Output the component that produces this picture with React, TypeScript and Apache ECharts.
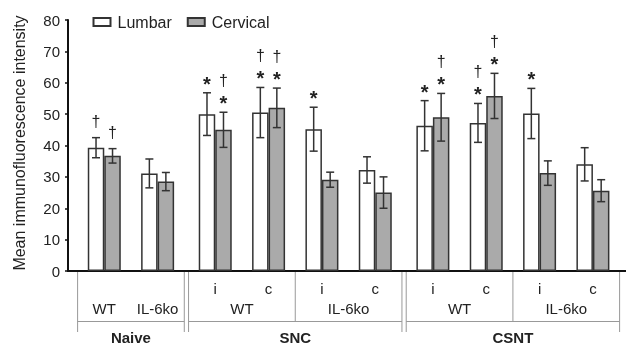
import React, { useEffect, useRef } from "react";
import * as echarts from "echarts";

// ---- data ----
const models = ["Naive", "SNC", "CSNT"];
const modelOf = [0, 0, 1, 1, 1, 1, 2, 2, 2, 2];
const genotypes = ["WT", "IL-6ko", "WT", "WT", "IL-6ko", "IL-6ko", "WT", "WT", "IL-6ko", "IL-6ko"];
const sides = ["", "", "i", "c", "i", "c", "i", "c", "i", "c"];

const lumbarMean = [39.3, 31.1, 50.0, 50.5, 45.2, 32.2, 46.3, 47.2, 50.2, 34.0];
const lumbarSD = [3.2, 4.6, 6.8, 8.0, 7.0, 4.2, 8.0, 6.2, 8.0, 5.3];
const cervicalMean = [36.7, 28.5, 45.0, 52.0, 29.1, 25.0, 49.0, 55.8, 31.2, 25.6];
const cervicalSD = [2.3, 2.9, 5.6, 6.3, 2.4, 5.0, 7.6, 7.2, 3.9, 3.5];
const lumbarMarks = ["†", "", "*", "†*", "*", "", "*", "†*", "*", ""];
const cervicalMarks = ["†", "", "†*", "†*", "", "", "†*", "†*", "", ""];

const seriesNames = ["Lumbar", "Cervical"];
const yTickValues = { min: 0, max: 80, interval: 10 };

// ---- styling ----
const FONT = '"Liberation Sans", Arial, Helvetica, sans-serif';
const TEXT = "#222";
const EDGE = "#333";
const GRAY = "#aaaaaa";
const LINE_GRAY = "#999";
const BAR_W = 16.5;
const GROUP_GAP = 0.08;
const xPos = modelOf.map((g, i) => i + GROUP_GAP * g);

function errSeries(name: string, means: number[], sds: number[], marks: string[], dir: number) {
  return {
    type: "custom",
    name: name + "-err",
    silent: true,
    clip: false,
    z: 5,
    data: means.map((m, i) => [xPos[i], m, sds[i]]),
    encode: { x: 0, y: 1 },
    renderItem: (params: any, api: any) => {
      const x = api.value(0);
      const m = api.value(1);
      const sd = api.value(2);
      const top = api.coord([x, m + sd]);
      const bot = api.coord([x, m - sd]);
      const cx = top[0] + (dir * BAR_W) / 2;
      const cap = 4;
      const ls = { stroke: EDGE, lineWidth: 1.5 };
      const children: any[] = [
        { type: "line", shape: { x1: cx, y1: top[1], x2: cx, y2: bot[1] }, style: ls },
        { type: "line", shape: { x1: cx - cap, y1: top[1], x2: cx + cap, y2: top[1] }, style: ls },
        { type: "line", shape: { x1: cx - cap, y1: bot[1], x2: cx + cap, y2: bot[1] }, style: ls },
      ];
      const mk = marks[params.dataIndex] || "";
      const hasStar = mk.indexOf("*") >= 0;
      const hasDagger = mk.indexOf("†") >= 0;
      if (hasStar) {
        children.push({
          type: "text",
          x: cx,
          y: top[1] - 9,
          style: {
            text: "*",
            fontSize: 20,
            fontWeight: "bold",
            fontFamily: FONT,
            fill: TEXT,
            align: "center",
            verticalAlign: "middle",
            textAlign: "center",
            textVerticalAlign: "middle",
          },
        });
      }
      if (hasDagger) {
        children.push({
          type: "text",
          x: cx,
          y: top[1] - (hasStar ? 31.5 : 16),
          style: {
            text: "†",
            fontSize: 16,
            fontFamily: FONT,
            fill: TEXT,
            align: "center",
            verticalAlign: "middle",
            textAlign: "center",
            textVerticalAlign: "middle",
          },
        });
      }
      return { type: "group", children };
    },
  };
}

export default function App() {
  const ref = useRef<HTMLDivElement>(null);
  useEffect(() => {
    document.body.style.margin = "0";
    const chart = echarts.init(ref.current!, null, { renderer: "svg" });
    chart.setOption({
      animation: false,
      textStyle: { fontFamily: FONT },
      grid: { left: 68, right: 0, top: 20, bottom: 75 },
      legend: {
        data: seriesNames,
        left: 92.5,
        top: 14,
        padding: 0,
        icon: "rect",
        itemWidth: 17,
        itemHeight: 8,
        itemGap: 15,
        textStyle: { fontSize: 16, color: TEXT, fontFamily: FONT, padding: [0, 0, 0, 2] },
      },
      xAxis: {
        type: "value",
        min: -0.68,
        max: 9.78,
        axisLine: { show: true, onZero: false, lineStyle: { color: "#111", width: 2 } },
        axisTick: { show: false },
        axisLabel: { show: false },
        splitLine: { show: false },
      },
      yAxis: {
        type: "value",
        min: yTickValues.min,
        max: yTickValues.max,
        interval: yTickValues.interval,
        name: "Mean immunofluorescence intensity",
        nameLocation: "middle",
        nameGap: 41,
        nameTextStyle: { fontSize: 16, color: TEXT, fontFamily: FONT, padding: [0, 0, 0, 5] },
        axisLine: { show: true, onZero: false, lineStyle: { color: "#111", width: 2 } },
        axisTick: { show: true, length: 3, lineStyle: { color: "#111", width: 1.5 } },
        axisLabel: { fontSize: 15, color: TEXT, margin: 8, fontFamily: FONT },
        splitLine: { show: false },
      },
      series: [
        {
          type: "bar",
          name: seriesNames[0],
          data: lumbarMean.map((v, i) => [xPos[i], v]),
          barWidth: BAR_W,
          barGap: "0%",
          itemStyle: { color: "#ffffff", borderColor: EDGE, borderWidth: 1.5 },
        },
        {
          type: "bar",
          name: seriesNames[1],
          data: cervicalMean.map((v, i) => [xPos[i], v]),
          barWidth: BAR_W,
          barGap: "0%",
          itemStyle: { color: GRAY, borderColor: EDGE, borderWidth: 1.5 },
        },
        errSeries(seriesNames[0], lumbarMean, lumbarSD, lumbarMarks, -1),
        errSeries(seriesNames[1], cervicalMean, cervicalSD, cervicalMarks, 1),
      ],
    });

    // hierarchical category labels under the x axis, positioned through the axis scale
    const px = (v: number) => chart.convertToPixel({ xAxisIndex: 0 }, v) as number;
    const baseY = chart.convertToPixel({ yAxisIndex: 0 }, 0) as number;
    const els: any[] = [];
    const vline = (x: number, y1: number, y2: number) =>
      els.push({ type: "line", silent: true, shape: { x1: x, y1, x2: x, y2 }, style: { stroke: LINE_GRAY, lineWidth: 1 } });
    const hline = (x1: number, x2: number, y: number) =>
      els.push({ type: "line", silent: true, shape: { x1, y1: y, x2, y2: y }, style: { stroke: LINE_GRAY, lineWidth: 1 } });
    const label = (t: string, x: number, y: number, bold = false) =>
      els.push({
        type: "text",
        silent: true,
        x,
        y,
        style: {
          text: t,
          fontSize: 15,
          fontWeight: bold ? "bold" : "normal",
          fontFamily: FONT,
          fill: TEXT,
          align: "center",
          verticalAlign: "middle",
          textAlign: "center",
          textVerticalAlign: "middle",
        },
      });

    const rowSide = baseY + 17.6;
    const rowGeno = baseY + 37.5;
    const rowH = baseY + 50.5;
    const rowBottom = baseY + 61;
    const rowModel = baseY + 66.5;

    models.forEach((mName, g) => {
      const idx = modelOf.map((m, i) => (m === g ? i : -1)).filter((i) => i >= 0);
      const i0 = idx[0];
      const i1 = idx[idx.length - 1];
      const left = px(xPos[i0] - 0.5);
      const right = px(xPos[i1] + 0.5);
      vline(left, baseY + 1, rowBottom);
      vline(right, baseY + 1, rowBottom);
      hline(left, right, rowH);
      label(mName, (left + right) / 2, rowModel, true);
      // genotype sub groups
      const subs: number[][] = [];
      idx.forEach((i) => {
        const last = subs[subs.length - 1];
        if (last && genotypes[last[0]] === genotypes[i]) last.push(i);
        else subs.push([i]);
      });
      subs.forEach((s, k) => {
        const c = (px(xPos[s[0]]) + px(xPos[s[s.length - 1]])) / 2;
        label(genotypes[s[0]], c, rowGeno);
        s.forEach((i) => {
          if (sides[i]) label(sides[i], px(xPos[i]), rowSide);
        });
        if (k > 0 && s.length > 1) {
          const sep = (px(xPos[subs[k - 1][subs[k - 1].length - 1]]) + px(xPos[s[0]])) / 2;
          vline(sep, baseY + 1, rowH);
        }
      });
    });
    chart.setOption({ graphic: els });

    return () => chart.dispose();
  }, []);
  return <div ref={ref} style={{ position: "fixed", left: 0, top: 0, width: 626, height: 346 }} />;
}
